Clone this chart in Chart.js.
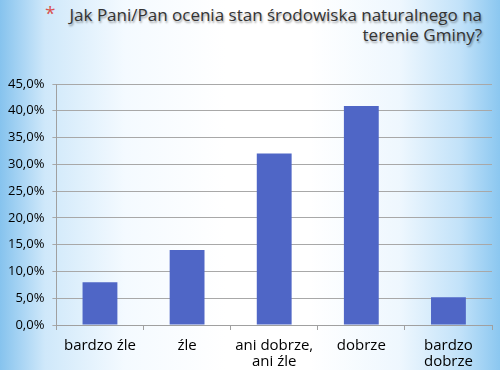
<!DOCTYPE html>
<html>
<head>
  <meta charset="UTF-8">
  <script src="https://cdn.jsdelivr.net/npm/chart.js"></script>
  <style>
    html, body { margin: 0; padding: 0; }
    body {
      width: 500px; height: 370px; overflow: hidden; position: relative;
      background: linear-gradient(to right, #86c3ee 0%, #cfe8fa 9%, #f4faff 25%, #ffffff 45%, #ffffff 62%, #eef7fe 80%, #c2e2f9 92%, #8bc7f0 100%);
      font-family: "Open Sans", sans-serif;
    }
    #title {
      position: absolute; top: 5px; right: 18px; width: 430px;
      text-align: right; font-size: 17px; line-height: 20px; color: #333;
      text-shadow: 1px 2px 2px rgba(0,0,0,0.35);
    }
    #star { position: absolute; left: 45px; top: 0px; color: #d9534f; font-size: 19px; }
    .chart-container { position: absolute; left: 0; top: 0; width: 500px; height: 370px; }
  </style>
</head>
<body>
  <span id="star">*</span>
  <div id="title">Jak Pani/Pan ocenia stan środowiska naturalnego na<br>terenie Gminy?</div>
  <div class="chart-container">
    <canvas id="ocenaChart"></canvas>
  </div>
<script>
var categories = ['bardzo źle', 'źle', ['ani dobrze,', 'ani źle'], 'dobrze', ['bardzo', 'dobrze']];
var percents = [8.0, 14.0, 32.0, 40.9, 5.2];

var ctx = document.getElementById('ocenaChart').getContext('2d');
var ocenaChart = new Chart(ctx, {
  type: 'bar',
  data: {
    labels: categories,
    datasets: [{
      label: 'Ocena',
      data: percents,
      backgroundColor: '#4f66c6',
      borderWidth: 0,
      barPercentage: 0.4,
      categoryPercentage: 1.0
    }]
  },
  options: {
    responsive: true,
    maintainAspectRatio: false,
    animation: false,
    layout: { padding: { top: 84, right: 8, left: 0, bottom: 0 } },
    plugins: { legend: { display: false }, tooltip: { enabled: false } },
    scales: {
      x: {
        grid: { drawOnChartArea: false, drawTicks: true, tickLength: 5, color: '#a0a0a0', offset: true },
        border: { color: '#a0a0a0' },
        ticks: { color: '#000', font: { family: 'Open Sans', size: 15, lineHeight: 1.1 }, maxRotation: 0, padding: 7 },
        afterFit: function (scale) { scale.height = 45; }  // labels hang off the bottom like the original
      },
      y: {
        min: 0, max: 45,
        ticks: {
          stepSize: 5, color: '#000', font: { family: 'Open Sans', size: 13 }, padding: 8,
          callback: function (v) { return v.toFixed(1).replace('.', ',') + '%'; }
        },
        grid: { color: '#a8a8a8', tickLength: 4 },
        border: { color: '#a0a0a0' }
      }
    }
  }
});
</script>
</body>
</html>
